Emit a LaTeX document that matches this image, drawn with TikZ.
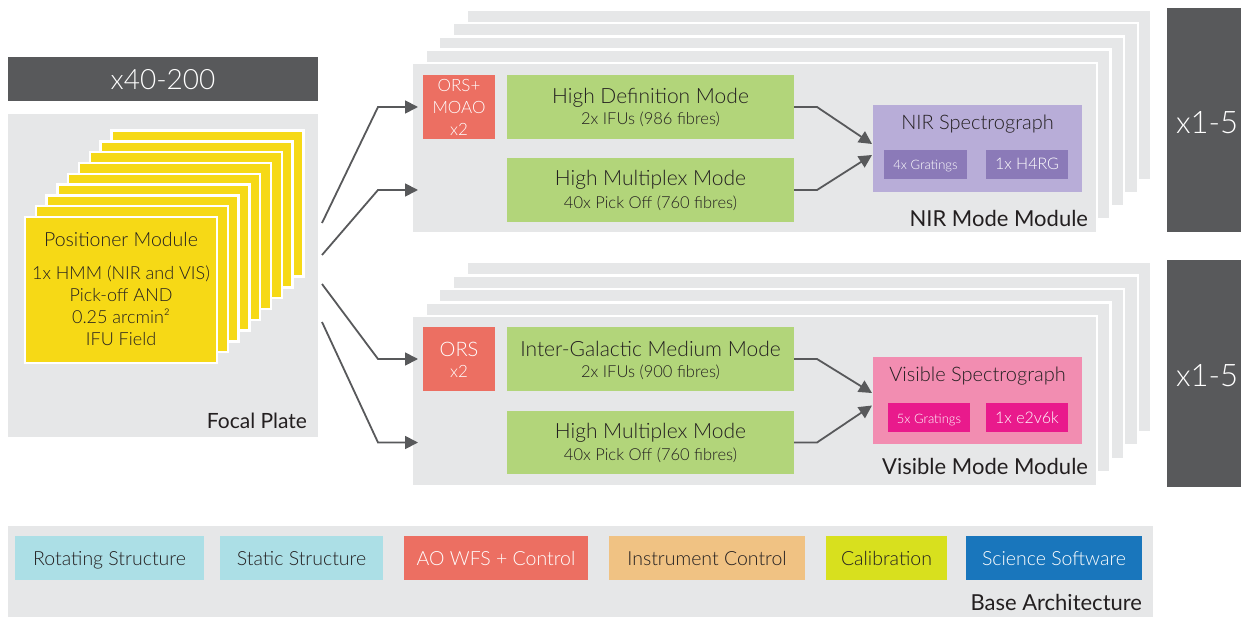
\documentclass[tikz,border=0pt]{standalone}
\usepackage{fontspec}
\IfFontExistsTF{Lato Light}{\setmainfont{Lato Light}}{\setmainfont{Lato}}
\newfontfamily\regfont{Lato}
\usetikzlibrary{arrows.meta,calc}
\definecolor{lightg}{HTML}{E6E7E8}
\definecolor{darkg}{HTML}{58595B}
\definecolor{yellowc}{HTML}{F6D916}
\definecolor{salmon}{HTML}{EC6F62}
\definecolor{greenc}{HTML}{B2D57A}
\definecolor{lavender}{HTML}{B8ADD8}
\definecolor{darklav}{HTML}{8B7AB8}
\definecolor{pinkc}{HTML}{F28DB1}
\definecolor{magentac}{HTML}{E91A8C}
\definecolor{cyanc}{HTML}{ACDFE6}
\definecolor{orangec}{HTML}{F0C283}
\definecolor{limec}{HTML}{D8E01E}
\definecolor{bluec}{HTML}{1976BC}
\definecolor{txtc}{HTML}{231F20}
\newcommand{\myfs}[1]{\fontsize{#1}{#1}\selectfont}
\begin{document}
\begin{tikzpicture}[x=1pt,y=-1pt,
  box/.style={rectangle,inner sep=0pt,outer sep=0pt,anchor=north west},
  txt/.style={inner sep=0pt,outer sep=0pt,anchor=base,text=txtc},
  wtxt/.style={txt,text=white},
  card/.style={box,fill=yellowc,draw=white,line width=2.5pt,minimum width=192pt,minimum height=146pt},
  modbox/.style={box,fill=lightg,draw=white,line width=2.5pt,minimum width=685pt,minimum height=170pt},
  conn/.style={draw=darkg,line width=1.8pt,-{Triangle[length=13pt,width=13pt]}},
  legend/.style={box,minimum height=44pt},
  ]
\useasboundingbox (0,0) rectangle (1241,617);
\fill[white] (0,0) rectangle (1241,617);

% ---------- top-left bar and focal plate
\node[box,fill=darkg,minimum width=310pt,minimum height=44pt] (bar) at (8,57) {};
\node[wtxt,font=\myfs{28}] (bartxt) at (163,89.3) {x40-200};
\node[box,fill=lightg,minimum width=310pt,minimum height=323pt] (fp) at (8,114) {};
\foreach \i in {8,7,...,1} \node[card] (card\i) at ({25+10.8*\i},{217-10.8*\i}) {};
\node[card] (pm) at (25,217) {};
\node[txt,font=\myfs{19.5}] (pmt) at (121,246.7) {Positioner Module};
\node[txt,font=\myfs{18}] (pm1) at (121,280) {1x HMM (NIR and VIS)};
\node[txt,font=\myfs{18}] (pm2) at (121,301.7) {Pick-off AND};
\node[txt,font=\myfs{18}] (pm3) at (121,323.3) {0.25 arcmin²};
\node[txt,font=\myfs{18}] (pm4) at (121,345) {IFU Field};
\node[txt,anchor=base east,font=\regfont\myfs{21}] (fpl) at (307,428.3) {Focal Plate};

% ---------- NIR module stack
\foreach \i in {4,3,2,1} \node[modbox] (nirb\i) at ({412+13.6*\i},{63-13.3*\i}) {};
\node[modbox] (nir) at (412,63) {};
\node[box,fill=salmon,minimum width=72pt,minimum height=64pt] (ors1) at (423,75) {};
\node[wtxt,font=\myfs{17}] (ors1a) at (459,91.7) {ORS+};
\node[wtxt,font=\myfs{17}] (ors1b) at (459,113.7) {MOAO};
\node[wtxt,font=\myfs{17}] (ors1c) at (459,135.5) {x2};
\node[box,fill=greenc,minimum width=287pt,minimum height=64pt] (hd1) at (507,75) {};
\node[txt,font=\myfs{21}] (hd1a) at (650.5,103.3) {High Definition Mode};
\node[txt,font=\myfs{16.5}] (hd1b) at (650.5,124.3) {2x IFUs (986 fibres)};
\node[box,fill=greenc,minimum width=287pt,minimum height=64pt] (hm1) at (507,158) {};
\node[txt,font=\myfs{21}] (hm1a) at (650.5,186) {High Multiplex Mode};
\node[txt,font=\myfs{16.5}] (hm1b) at (650.5,208.3) {40x Pick Off (760 fibres)};
\node[box,fill=lavender,minimum width=209pt,minimum height=87pt] (spec1) at (873,105) {};
\node[txt,font=\myfs{20}] (spec1t) at (977.5,129.3) {NIR Spectrograph};
\node[box,fill=darklav,minimum width=83pt,minimum height=29pt] (g1) at (884,150) {};
\node[wtxt,font=\myfs{13}] (g1t) at (925.5,170) {4x Gratings};
\node[box,fill=darklav,minimum width=82pt,minimum height=29pt] (d1) at (986,150) {};
\node[wtxt,font=\myfs{16}] (d1t) at (1027,170) {1x H4RG};
\node[txt,anchor=base east,font=\regfont\myfs{22}] (nirl) at (1088,226.7) {NIR Mode Module};

% ---------- Visible module stack
\foreach \i in {4,3,2,1} \node[modbox] (visb\i) at ({412+13.6*\i},{316-13.5*\i}) {};
\node[modbox] (vis) at (412,316) {};
\node[box,fill=salmon,minimum width=72pt,minimum height=64pt] (ors2) at (423,327) {};
\node[wtxt,font=\myfs{20}] (ors2a) at (459,356) {ORS};
\node[wtxt,font=\myfs{17}] (ors2b) at (459,377.7) {x2};
\node[box,fill=greenc,minimum width=287pt,minimum height=64pt] (igm) at (507,327) {};
\node[txt,font=\myfs{21}] (igma) at (650.5,356) {Inter-Galactic Medium Mode};
\node[txt,font=\myfs{16.5}] (igmb) at (650.5,377.7) {2x IFUs (900 fibres)};
\node[box,fill=greenc,minimum width=287pt,minimum height=63pt] (hm2) at (507,411) {};
\node[txt,font=\myfs{21}] (hm2a) at (650.5,438.3) {High Multiplex Mode};
\node[txt,font=\myfs{16.5}] (hm2b) at (650.5,460.7) {40x Pick Off (760 fibres)};
\node[box,fill=pinkc,minimum width=209pt,minimum height=87pt] (spec2) at (873,357) {};
\node[txt,font=\myfs{20}] (spec2t) at (977.5,381.7) {Visible Spectrograph};
\node[box,fill=magentac,minimum width=82pt,minimum height=29pt] (g2) at (888,403) {};
\node[wtxt,font=\myfs{13}] (g2t) at (929,423.3) {5x Gratings};
\node[box,fill=magentac,minimum width=82pt,minimum height=29pt] (d2) at (986,403) {};
\node[wtxt,font=\myfs{16}] (d2t) at (1027,423.3) {1x e2v6k};
\node[txt,anchor=base east,font=\regfont\myfs{22}] (visl) at (1088,474) {Visible Mode Module};

% ---------- multiplicity boxes
\node[box,fill=darkg,minimum width=74pt,minimum height=224pt] (m1) at (1167,8) {};
\node[wtxt,font=\myfs{31}] (m1t) at (1207,133.3) {x1-5};
\node[box,fill=darkg,minimum width=74pt,minimum height=227pt] (m2) at (1167,260) {};
\node[wtxt,font=\myfs{31}] (m2t) at (1207,386.7) {x1-5};

% ---------- connectors focal plate -> modules
\coordinate (s1) at (322,223);
\coordinate (s2) at (322,255);
\coordinate (s3) at (322,284);
\coordinate (s4) at (322,322);
\coordinate (b1) at ($(ors1.west)+(-45,0)$);
\coordinate (b2) at ($(ors1.west |- hm1.west)+(-45,0)$);
\coordinate (b3) at ($(ors2.west)+(-45,0)$);
\coordinate (b4) at ($(ors2.west |- hm2.west)+(-45,0)$);
\draw[conn] (s1) -- (b1) -- ($(ors1.west)+(-5,0)$);
\draw[conn] (s2) -- (b2) -- ($(ors1.west |- hm1.west)+(-5,0)$);
\draw[conn] (s3) -- (b3) -- ($(ors2.west)+(-5,0)$);
\draw[conn] (s4) -- (b4) -- ($(ors2.west |- hm2.west)+(-5,0)$);

% ---------- connectors modes -> spectrographs
\draw[conn] (hd1.east) -- ++(23,0) -- ($(spec1.west)+(-1,-4.5)$);
\draw[conn] (hm1.east) -- ++(23,0) -- ($(spec1.west)+(-1,6.5)$);
\draw[conn] (igm.east) -- ++(23,0) -- ($(spec2.west)+(-1,-7.5)$);
\draw[conn] (hm2.east) -- ++(23,0) -- ($(spec2.west)+(-1,5)$);

% ---------- base architecture
\node[box,fill=lightg,minimum width=1145pt,minimum height=91pt] (base) at (8,526) {};
\node[legend,fill=cyanc,minimum width=189pt] (l1) at (15,536) {};
\node[txt,font=\myfs{19.5}] (l1t) at (109.5,565) {Rotating Structure};
\node[legend,fill=cyanc,minimum width=163pt] (l2) at (220,536) {};
\node[txt,font=\myfs{19.5}] (l2t) at (301.5,565) {Static Structure};
\node[legend,fill=salmon,minimum width=184pt] (l3) at (404,536) {};
\node[wtxt,font=\myfs{19.5}] (l3t) at (496,565) {AO WFS + Control};
\node[legend,fill=orangec,minimum width=196pt] (l4) at (609,536) {};
\node[txt,font=\myfs{19.5}] (l4t) at (707,565) {Instrument Control};
\node[legend,fill=limec,minimum width=121pt] (l5) at (826,536) {};
\node[txt,font=\myfs{19.5}] (l5t) at (886.5,565) {Calibration};
\node[legend,fill=bluec,minimum width=176pt] (l6) at (966,536) {};
\node[wtxt,font=\myfs{19.5}] (l6t) at (1054,565) {Science Software};
\node[txt,anchor=base east,font=\regfont\myfs{22}] (basel) at (1142,610) {Base Architecture};
\end{tikzpicture}
\end{document}
